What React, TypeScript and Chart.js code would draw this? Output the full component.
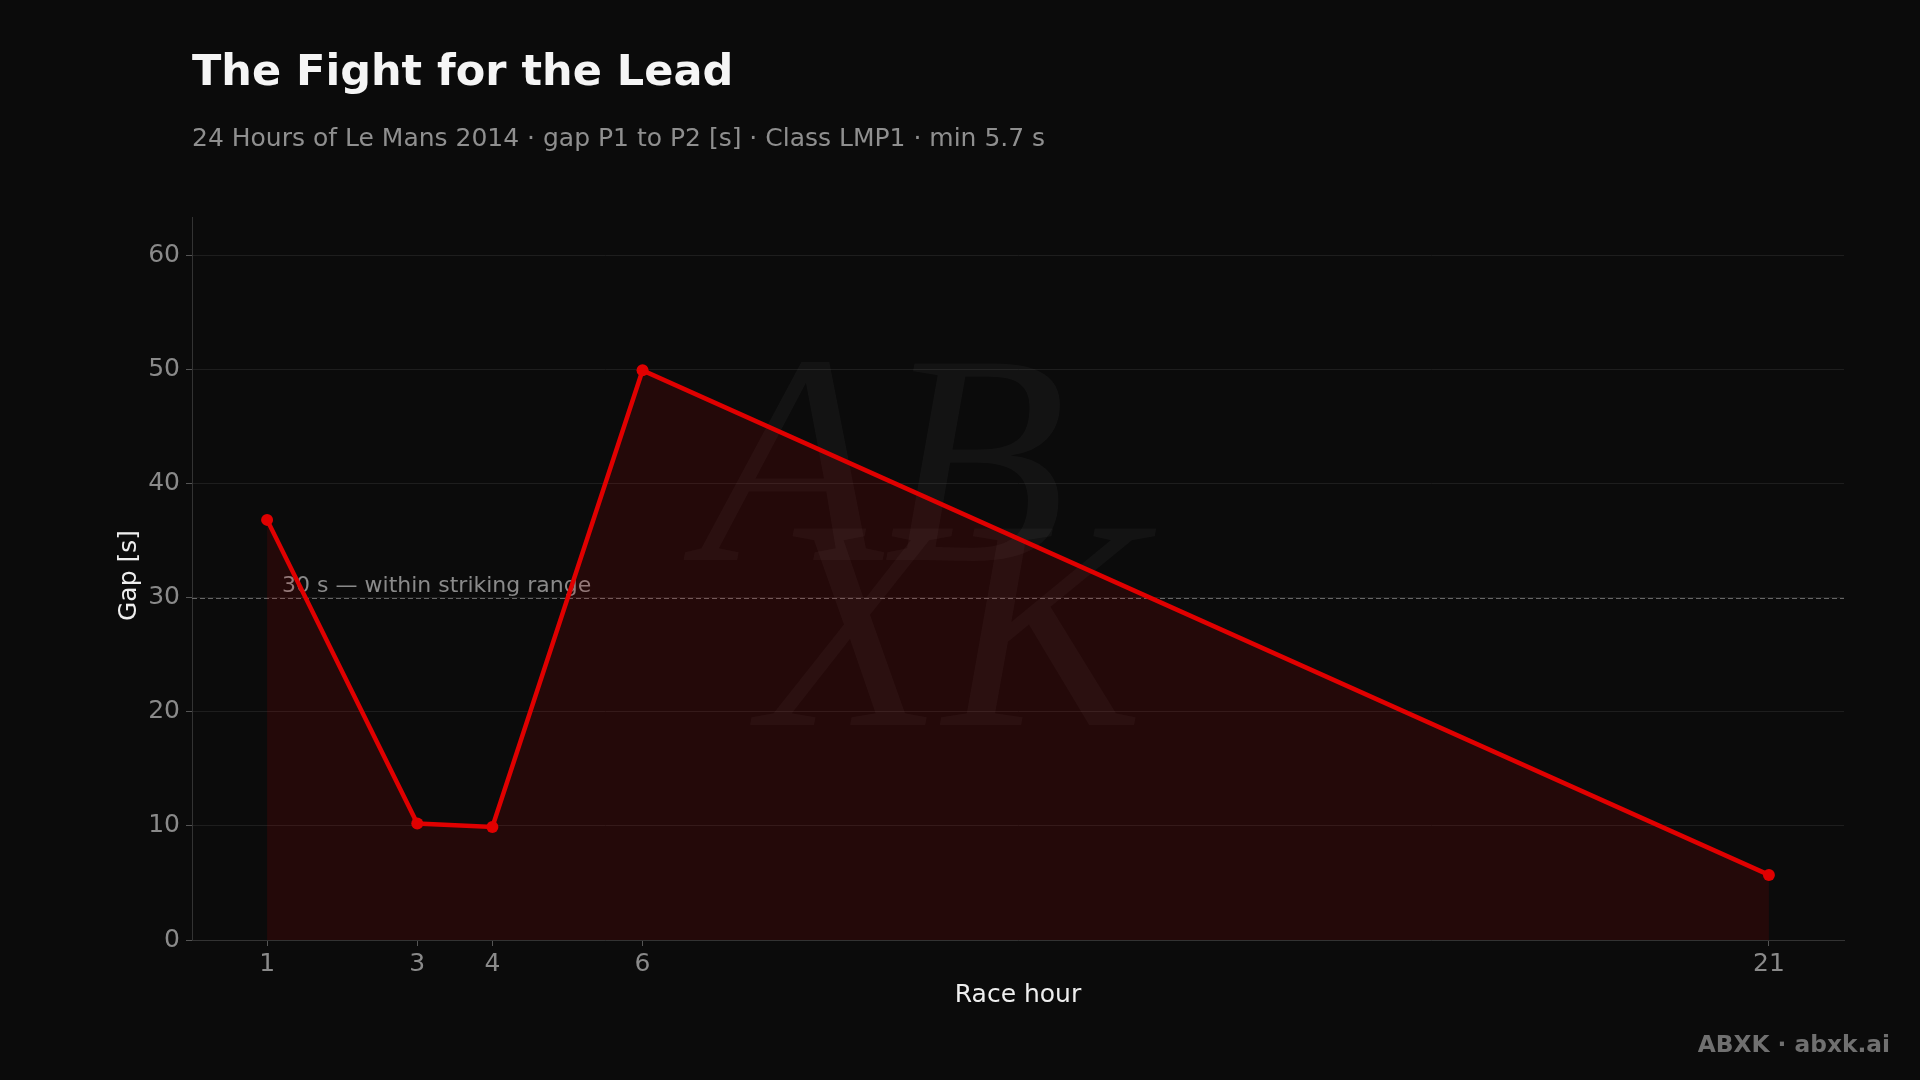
import React, { useEffect, useRef } from 'react';
import { Chart, registerables } from 'chart.js';

Chart.register(...registerables);

const hours = [1, 3, 4, 6, 21];
const gaps = [36.8, 10.2, 9.9, 49.9, 5.7];
const xTicks = [1, 3, 4, 6, 21];
const yTicks = [0, 10, 20, 30, 40, 50, 60];
const thresholdValue = 30;
const thresholdLabel = '30 s — within striking range';
const titleText = 'The Fight for the Lead';
const subtitleText = '24 Hours of Le Mans 2014 · gap P1 to P2 [s] · Class LMP1 · min 5.7 s';
const xTitle = 'Race hour';
const yTitle = 'Gap [s]';
const brandText = 'ABXK · abxk.ai';
const monoA = 'AB';
const monoB = 'XK';

const FONT = "'DejaVu Sans', 'Noto Sans', sans-serif";

const overlay = {
  id: 'overlay',
  beforeDraw(chart: any) {
    const ctx = chart.ctx;
    const ca = chart.chartArea;
    ctx.save();
    ctx.fillStyle = '#0b0b0b';
    ctx.fillRect(0, 0, chart.width, chart.height);

    ctx.textAlign = 'left';
    ctx.textBaseline = 'alphabetic';
    ctx.fillStyle = '#f5f5f5';
    ctx.font = `bold 43px ${FONT}`;
    ctx.fillText(titleText, 192, 85);

    ctx.fillStyle = '#8f8f8f';
    ctx.font = `25px ${FONT}`;
    ctx.fillText(subtitleText, 192, 146);

    ctx.fillStyle = '#eeeeee';
    ctx.font = `25px ${FONT}`;
    ctx.textAlign = 'center';
    ctx.fillText(xTitle, (ca.left + ca.right) / 2, 1002);

    ctx.save();
    ctx.translate(136, (ca.top + ca.bottom) / 2 - 3);
    ctx.rotate(-Math.PI / 2);
    ctx.fillText(yTitle, 0, 0);
    ctx.restore();

    ctx.textAlign = 'right';
    ctx.fillStyle = '#707070';
    ctx.font = `bold 23.3px ${FONT}`;
    ctx.fillText(brandText, 1890, 1052);
    ctx.restore();
  },
  beforeDatasetsDraw(chart: any) {
    const ctx = chart.ctx;
    const ca = chart.chartArea;
    const xs = chart.scales.x;
    const ys = chart.scales.y;
    ctx.save();
    // faint monogram watermark
    ctx.fillStyle = 'rgba(255,255,255,0.035)';
    ctx.textAlign = 'left';
    ctx.textBaseline = 'alphabetic';
    ctx.font = "italic 300px 'Liberation Serif', serif";
    ctx.fillText(monoA, 700, 560);
    ctx.fillText(monoB, 760, 725);

    // threshold line
    const y = Math.round(ys.getPixelForValue(thresholdValue)) + 0.5;
    ctx.strokeStyle = '#666666';
    ctx.lineWidth = 1;
    ctx.setLineDash([5, 3]);
    ctx.beginPath();
    ctx.moveTo(ca.left, y);
    ctx.lineTo(ca.right, y);
    ctx.stroke();
    ctx.setLineDash([]);
    ctx.fillStyle = '#8a8a8a';
    ctx.font = `22px ${FONT}`;
    ctx.textAlign = 'left';
    ctx.fillText(thresholdLabel, xs.getPixelForValue(hours[0]) + 15, y - 7);
    ctx.restore();
  },
};

export default function App() {
  const ref = useRef<HTMLCanvasElement | null>(null);
  useEffect(() => {
    if (!ref.current) return;
    const chart = new Chart(ref.current, {
      type: 'line',
      data: {
        datasets: [
          {
            data: hours.map((h, i) => ({ x: h, y: gaps[i] })),
            borderColor: '#e00000',
            borderWidth: 4.5,
            pointRadius: 6,
            pointBackgroundColor: '#e00000',
            pointBorderWidth: 0,
            fill: 'origin',
            backgroundColor: 'rgba(220,0,0,0.12)',
            tension: 0,
          },
        ],
      },
      options: {
        animation: false,
        responsive: false,
        devicePixelRatio: 1,
        layout: { padding: { left: 0, right: 76, top: 217, bottom: 0 } },
        plugins: {
          legend: { display: false },
          tooltip: { enabled: false },
          title: { display: false },
        },
        scales: {
          x: {
            type: 'linear',
            min: 0,
            max: 22,
            afterFit(s: any) {
              s.height = 140;
            },
            afterBuildTicks(s: any) {
              s.ticks = xTicks.map((v) => ({ value: v }));
            },
            grid: { drawOnChartArea: false, drawTicks: true, tickLength: 6, tickColor: '#555555' },
            border: { color: '#333333', width: 1 },
            ticks: {
              color: '#8a8a8a',
              font: { family: FONT, size: 25 },
              padding: 3,
              autoSkip: false,
              maxRotation: 0,
            },
          },
          y: {
            type: 'linear',
            min: 0,
            max: 63.33,
            afterFit(s: any) {
              s.width = 192;
            },
            afterBuildTicks(s: any) {
              s.ticks = yTicks.map((v) => ({ value: v }));
            },
            grid: { color: '#1e1e1e', tickColor: '#555555', tickLength: 6, drawTicks: true },
            border: { color: '#333333', width: 1 },
            ticks: {
              color: '#8a8a8a',
              font: { family: FONT, size: 25 },
              padding: 6,
            },
          },
        },
      },
      plugins: [overlay],
    } as any);
    return () => chart.destroy();
  }, []);
  return (
    <div style={{ position: 'fixed', left: 0, top: 0, width: 1920, height: 1080, background: '#0b0b0b' }}>
      <canvas ref={ref} width={1920} height={1080} style={{ display: 'block', width: 1920, height: 1080 }} />
    </div>
  );
}
